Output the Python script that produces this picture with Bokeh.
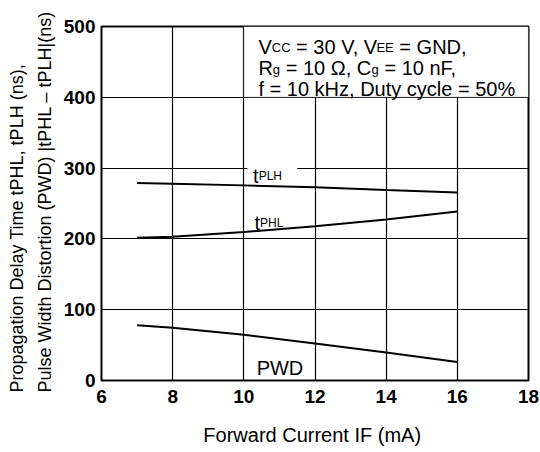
import math
from bokeh.plotting import figure
from bokeh.models import Label, BoxAnnotation, Range1d, FixedTicker, Title
from bokeh.embed import file_html
from bokeh.resources import INLINE

# ---- data ----
forward_current = [7, 8, 10, 12, 14, 16]
t_plh = [279, 278, 275.6, 272.8, 269, 265.6]
t_phl = [201.7, 203, 209.6, 218, 227.5, 238.7]
pwd = [78, 74.4, 64.5, 52.4, 39.7, 26]
x_ticks = [6, 8, 10, 12, 14, 16, 18]
y_ticks = [0, 100, 200, 300, 400, 500]

FONT = "Liberation Sans"

# Arial / Liberation Sans advance widths (per 1000 em)
W = {' ': 278, ',': 278, '.': 278, '=': 584, '%': 889, '(': 333, ')': 333,
     '|': 260, '\u2013': 556, '\u03a9': 768,
     'A': 667, 'B': 667, 'C': 722, 'D': 722, 'E': 667, 'F': 611, 'G': 778,
     'H': 722, 'I': 278, 'L': 556, 'M': 833, 'N': 722, 'P': 667, 'R': 722,
     'S': 667, 'T': 611, 'V': 667, 'W': 944,
     'a': 556, 'b': 556, 'c': 500, 'd': 556, 'e': 556, 'f': 278, 'g': 556,
     'h': 556, 'i': 222, 'k': 500, 'l': 222, 'm': 833, 'n': 556, 'o': 556,
     'p': 556, 'r': 333, 's': 500, 't': 278, 'u': 556, 'w': 722, 'y': 500,
     'z': 500}
for d in "0123456789":
    W[d] = 556


def tw(s, size):
    return sum(W.get(c, 556) for c in s) * size / 1000.0


def add_runs(p, x, y, runs):
    pos = 0.0
    for r in runs:
        t, sz = r[0], r[1]
        dy = r[2] if len(r) > 2 else 0
        if len(r) > 3:
            pos += r[3]
        lead = len(t) - len(t.lstrip(' '))
        core = t.strip(' ')
        start = pos + tw(' ' * lead, sz)
        if core:
            p.add_layout(Label(x=x, y=y, text=core, text_font=FONT,
                               text_font_size=f"{sz}px", text_color="black",
                               text_align="left", text_baseline="alphabetic",
                               x_offset=start, y_offset=dy))
        pos += tw(t, sz)


p = figure(width=540, height=452, output_backend="svg", toolbar_location=None,
           x_range=Range1d(6, 18), y_range=Range1d(0, 500),
           min_border_left=101, min_border_right=12, min_border_top=26,
           min_border_bottom=72)
p.background_fill_color = "white"
p.border_fill_color = "white"
p.outline_line_color = "black"
p.outline_line_width = 2

for ax in (p.xaxis[0], p.yaxis[0]):
    ax.axis_line_color = None
    ax.major_tick_out = 0
    ax.major_tick_in = 0
    ax.minor_tick_out = 0
    ax.minor_tick_in = 0
    ax.major_label_text_font = FONT
    ax.major_label_text_font_style = "bold"
    ax.major_label_text_font_size = "19px"
    ax.major_label_text_color = "black"
p.xaxis.ticker = FixedTicker(ticks=x_ticks)
p.yaxis.ticker = FixedTicker(ticks=y_ticks)
p.xaxis.major_label_standoff = 9
p.yaxis.major_label_standoff = 6

# x axis title
p.xaxis.axis_label = "Forward Current  IF (mA)"
p.xaxis.axis_label_text_font = FONT
p.xaxis.axis_label_text_font_style = "normal"
p.xaxis.axis_label_text_font_size = "20px"
p.xaxis.axis_label_text_color = "black"
p.xaxis.axis_label_standoff = 18

# y axis title: two lines, both starting just below the frame bottom
line2 = Title(text="Pulse Width Distortion (PWD) |tPHL \u2013 tPLH|(ns)",
              align="left", offset=-12, standoff=11, text_font=FONT,
              text_font_style="normal", text_font_size="18px",
              text_color="black")
line1 = Title(text="Propagation Delay Time  tPHL, tPLH (ns),",
              align="left", offset=-12, standoff=2, text_font=FONT,
              text_font_style="normal", text_font_size="18px",
              text_color="black")
p.add_layout(line2, "left")
p.add_layout(line1, "left")

p.xgrid.ticker = FixedTicker(ticks=x_ticks)
p.ygrid.ticker = FixedTicker(ticks=y_ticks)
for g in (p.xgrid[0], p.ygrid[0]):
    g.grid_line_color = "black"
    g.grid_line_width = 1.2
    g.grid_line_alpha = 1.0

# curves
p.line(forward_current, t_plh, line_color="black", line_width=2)
p.line(forward_current, t_phl, line_color="black", line_width=2)
p.line(forward_current, pwd, line_color="black", line_width=2)

# condition box (upper right)
p.add_layout(BoxAnnotation(left=10, right=18, bottom=400, top=500,
                           fill_color="white", fill_alpha=1.0,
                           line_color="black", line_width=1.2))
add_runs(p, 10.41, 471, [("V", 20), ("CC", 13), (" = 30 V, V", 20),
                         ("EE", 13, 0, -2.5), (" = GND,", 20)])
add_runs(p, 10.41, 442, [("R", 20), ("g", 13, -2), (" = 10 \u03a9, C", 20),
                         ("g", 13, -2), (" = 10 nF,", 20)])
add_runs(p, 10.41, 412, [("f = 10 kHz, Duty cycle = 50%", 20)])

# white gap behind the tPLH label
p.add_layout(BoxAnnotation(left=10.1, right=11.5, bottom=290, top=310,
                           fill_color="white", fill_alpha=1.0,
                           line_color=None))

# curve labels
add_runs(p, 10.26, 289.4, [("t", 20), ("PLH", 12)])
add_runs(p, 10.30, 222.3, [("t", 20), ("PHL", 12)])
add_runs(p, 10.36, 18.0, [("PWD", 20)])

open("out.html", "w").write(file_html(p, INLINE))
